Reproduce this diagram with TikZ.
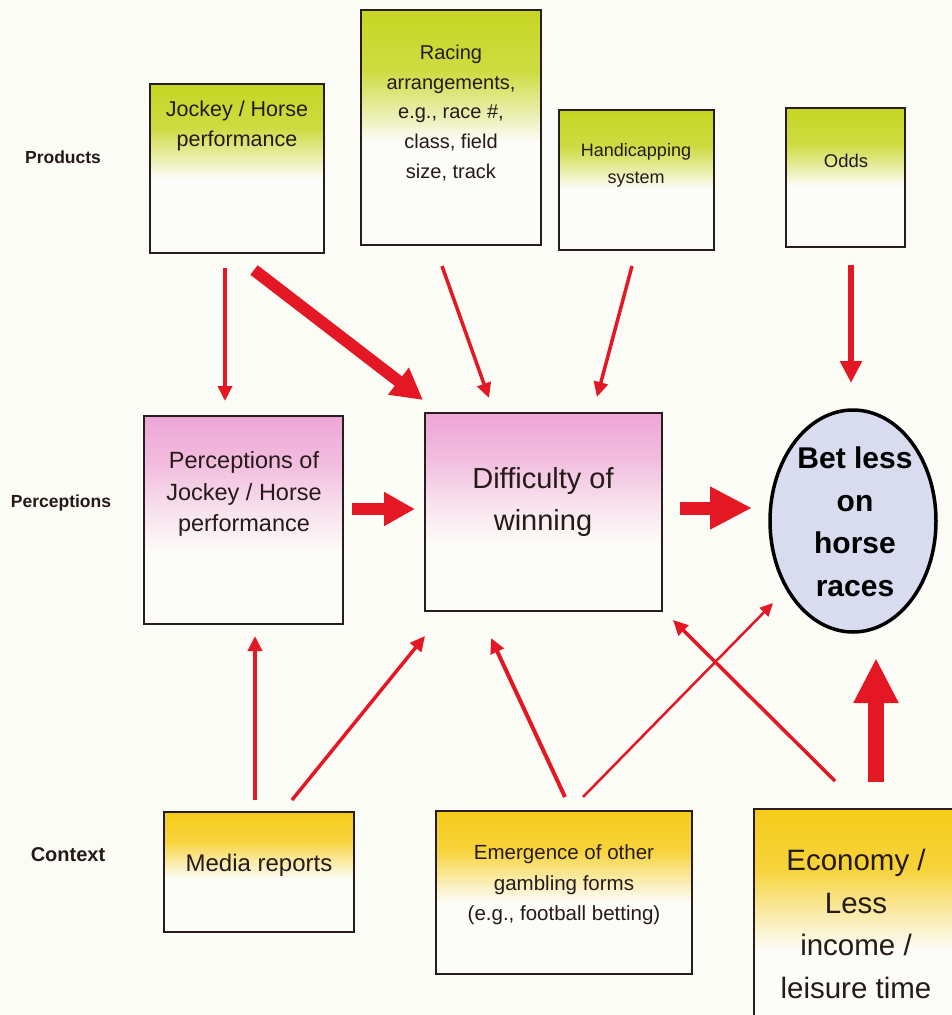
\documentclass[tikz,border=0pt]{standalone}
\usepackage{fontspec}
\setmainfont{Liberation Sans}
\usetikzlibrary{arrows.meta,shapes.geometric}

% palette
\definecolor{paper}{RGB}{252,252,247}
\definecolor{boxwhite}{RGB}{252,252,248}
\definecolor{prodgreen}{RGB}{198,214,34}
\definecolor{percpink}{RGB}{238,166,214}
\definecolor{ctxyellow}{RGB}{246,204,26}
\definecolor{ovalfill}{RGB}{216,220,238}
\definecolor{boxline}{RGB}{40,28,28}
\definecolor{ink}{RGB}{38,26,24}
\definecolor{arrowred}{RGB}{228,24,36}
\colorlet{prodhi}{prodgreen!85!boxwhite}
\colorlet{prodlo}{prodgreen!35!boxwhite}
\colorlet{perchi}{percpink!75!boxwhite}
\colorlet{perclo}{percpink!30!boxwhite}
\colorlet{ctxhi}{ctxyellow!85!boxwhite}
\colorlet{ctxlo}{ctxyellow!35!boxwhite}

% top-to-bottom fades (path height maps to 25bp..75bp)
\pgfdeclareverticalshading{prodfade}{100bp}{color(0bp)=(boxwhite); color(47bp)=(boxwhite); color(53bp)=(prodlo); color(62bp)=(prodhi); color(75bp)=(prodgreen); color(100bp)=(prodgreen)}
\pgfdeclareverticalshading{percfade}{100bp}{color(0bp)=(boxwhite); color(42bp)=(boxwhite); color(52bp)=(perclo); color(64bp)=(perchi); color(75bp)=(percpink); color(100bp)=(percpink)}
\pgfdeclareverticalshading{ctxfade}{100bp}{color(0bp)=(boxwhite); color(47bp)=(boxwhite); color(54bp)=(ctxlo); color(63bp)=(ctxhi); color(75bp)=(ctxyellow); color(100bp)=(ctxyellow)}

\newcommand\setfs[2]{\fontsize{#1}{#2}\selectfont}

\begin{document}
\begin{tikzpicture}[x=1pt,y=-1pt,
  box/.style={rectangle, draw=boxline, line width=1.8pt, shade, inner sep=0pt},
  prodbox/.style={box, shading=prodfade},
  percbox/.style={box, shading=percfade},
  ctxbox/.style={box, shading=ctxfade},
  boxtext/.style={align=center, text=ink, inner sep=0pt},
  rowlabel/.style={text=ink, inner sep=0pt, font=\bfseries\setfs{17.5}{20}},
  thinarrow/.style={draw=arrowred, line width=3.5pt, -{Triangle[length=15pt,width=14pt]}},
  fine/.style={draw=arrowred, line width=2.5pt, -{Triangle[length=13pt,width=12pt]}},
  midarrow/.style={draw=arrowred, line width=6pt, -{Triangle[length=22pt,width=21pt]}},
  bigarrow/.style={draw=arrowred, line width=12pt, -{Triangle[length=31pt,width=32pt]}},
  hugearrow/.style={draw=arrowred, line width=13pt, -{Triangle[length=42pt,width=40pt]}},
  fatarrow/.style={draw=arrowred, line width=16pt, -{Triangle[length=45pt,width=42pt]}}
]
\useasboundingbox (0,0) rectangle (952,1015);
\fill[paper] (0,0) rectangle (952,1015);
\clip (0,0) rectangle (952,1015);

% row labels
\node[rowlabel] (lprod) at (63,157) {Products};
\node[rowlabel] (lperc) at (61,503) {Perceptions};
\node[rowlabel, font=\bfseries\setfs{20}{22}] (lctx) at (68,855) {Context};

% product boxes
\node[prodbox, minimum width=174pt, minimum height=169pt] (jockey) at (237,168.5) {};
\node[boxtext, font=\setfs{21.5}{30}] (tjockey) at (237,126) {Jockey / Horse\\performance};

\node[prodbox, minimum width=180pt, minimum height=235pt] (racing) at (451,127.5) {};
\node[boxtext, font=\setfs{20}{29.8}] (tracing) at (451,113) {Racing\\arrangements,\\e.g., race \#,\\class, field\\size, track};

\node[prodbox, minimum width=155pt, minimum height=140pt] (handi) at (636.5,180) {};
\node[boxtext, font=\setfs{18}{27}] (thandi) at (636,165) {Handicapping\\system};

\node[prodbox, minimum width=119pt, minimum height=139pt] (odds) at (845.5,177.5) {};
\node[boxtext, font=\setfs{18.5}{27}] (todds) at (846,161) {Odds};

% perception boxes
\node[percbox, minimum width=199pt, minimum height=208pt] (percjh) at (243.5,520) {};
\node[boxtext, font=\setfs{23.5}{31.5}] (tpercjh) at (244,494) {Perceptions of\\Jockey / Horse\\performance};

\node[percbox, minimum width=237pt, minimum height=198pt] (diff) at (543.5,512) {};
\node[boxtext, font=\setfs{29}{42}] (tdiff) at (543,502) {Difficulty of\\winning};

% outcome
\node[ellipse, draw=black, line width=3.5pt, fill=ovalfill, minimum width=166pt, minimum height=222pt, inner sep=0pt] (bet) at (853,521) {};
\node[boxtext, text=black, font=\bfseries\setfs{30}{42.5}] (tbet) at (855,522) {Bet less\\on\\horse\\races};

% context boxes
\node[ctxbox, minimum width=190pt, minimum height=120pt] (media) at (259,872) {};
\node[boxtext, font=\setfs{24}{30}] (tmedia) at (259,865) {Media reports};

\node[ctxbox, minimum width=256pt, minimum height=163pt] (emerg) at (564,892.5) {};
\node[boxtext, font=\setfs{20.5}{30.5}] (temerg) at (564,885) {Emergence of other\\gambling forms\\(e.g., football betting)};

\node[ctxbox, minimum width=246pt, minimum height=251pt] (econ) at (877,934.5) {};
\node[boxtext, font=\setfs{29.5}{42.5}] (tecon) at (856,924) {Economy /\\Less\\income /\\leisure time};

% arrow end points
\coordinate (a1s) at (225,268);  \coordinate (a1e) at (225,401);
\coordinate (a2s) at (254,270);  \coordinate (a2e) at (423,400);
\coordinate (a3s) at (442,266);  \coordinate (a3e) at (489,398);
\coordinate (a4s) at (632,266);  \coordinate (a4e) at (597,397);
\coordinate (a5s) at (851,265);  \coordinate (a5e) at (851,383);
\coordinate (a6s) at (352,509);  \coordinate (a6e) at (415,509);
\coordinate (a7s) at (680,508);  \coordinate (a7e) at (752,508);
\coordinate (a8s) at (255,800);  \coordinate (a8e) at (255,636);
\coordinate (a9s) at (292,800);  \coordinate (a9e) at (425,636);
\coordinate (a10s) at (565,797); \coordinate (a10e) at (491,638);
\coordinate (a11s) at (583,797); \coordinate (a11e) at (773,603);
\coordinate (a12s) at (835,781); \coordinate (a12e) at (673,620);
\coordinate (a13s) at (876,782); \coordinate (a13e) at (876,658);

% influences
\draw[thinarrow] (a1s) -- (a1e);
\draw[bigarrow]  (a2s) -- (a2e);
\draw[thinarrow] (a3s) -- (a3e);
\draw[thinarrow] (a4s) -- (a4e);
\draw[midarrow]  (a5s) -- (a5e);
\draw[bigarrow]  (a6s) -- (a6e);
\draw[hugearrow] (a7s) -- (a7e);
\draw[thinarrow] (a8s) -- (a8e);
\draw[thinarrow] (a9s) -- (a9e);
\draw[thinarrow, line width=4pt] (a10s) -- (a10e);
\draw[fine]      (a11s) -- (a11e);
\draw[thinarrow] (a12s) -- (a12e);
\draw[fatarrow]  (a13s) -- (a13e);
\end{tikzpicture}
\end{document}
